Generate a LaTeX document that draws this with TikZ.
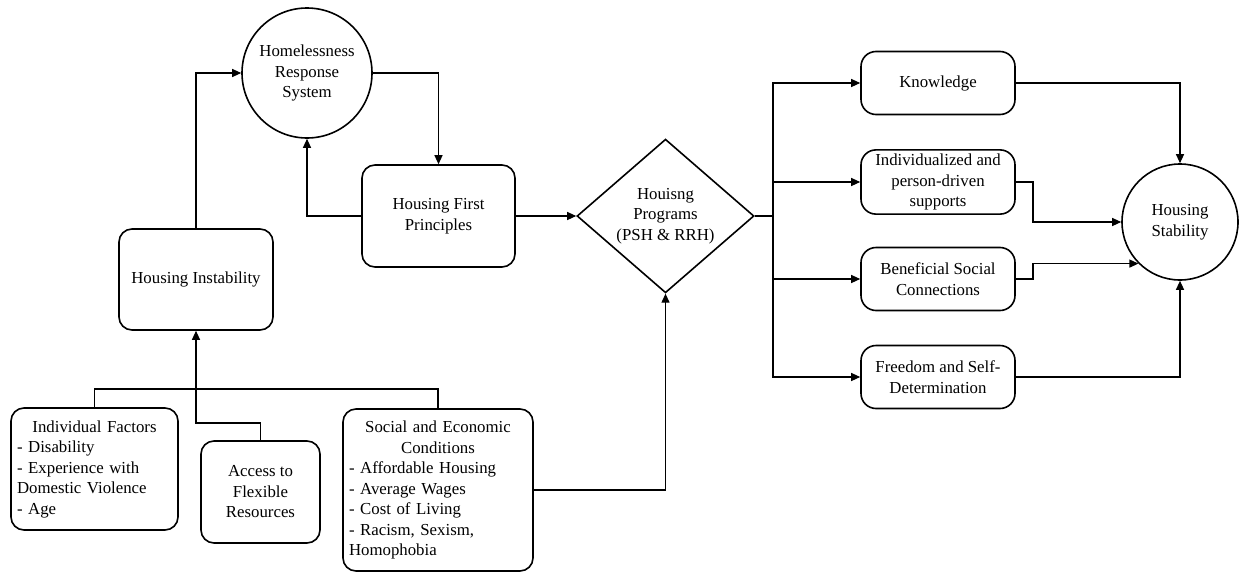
\documentclass[tikz,border=0pt]{standalone}
\usepackage{fontspec}
\setmainfont{Liberation Serif}
\newfontfamily\diagfont{Liberation Serif}
\usetikzlibrary{shapes.geometric,arrows.meta}
\tikzset{
  txt/.style={font=\diagfont\fontsize{16.8pt}{20.5pt}\selectfont},
  box/.style={txt,draw,line width=1.6pt,rounded corners=13pt,inner sep=4pt,align=center},
  rbox/.style={box,minimum width=154pt,minimum height=63pt,rounded corners=15pt},
  circ/.style={txt,draw,circle,line width=1.6pt,inner sep=0pt,align=center},
  conn/.style={line width=1.2pt},
  arr/.style={conn,-{Triangle[length=9pt,width=8pt]}}
}
\begin{document}
\begin{tikzpicture}[x=1pt,y=-1pt]
\useasboundingbox (0,0) rectangle (1239,573);
% nodes
\node[circ,minimum size=130pt] (hrs) at (307,73) {Homelessness\\Response\\System};
\node[box,minimum width=154pt,minimum height=101pt] (hi) at (196,279.5) {Housing Instability};
\node[box,minimum width=153pt,minimum height=102pt] (hfp) at (438.5,216) {Housing First\\Principles};
\node[txt,draw,diamond,line width=1.6pt,inner sep=0pt,minimum width=177pt,minimum height=130pt,align=center] (hp) at (665.5,216) {Houisng\\Programs\\(PSH \& RRH)};
\node[box,minimum width=167pt,minimum height=122pt,text width=155pt,align=left] (ind) at (94.5,469) {{\centering Individual Factors\par}- Disability\\- Experience with\\Domestic Violence\\- Age};
\node[box,minimum width=119pt,minimum height=102pt] (acc) at (260.5,492) {Access to\\Flexible\\Resources};
\node[box,minimum width=190pt,minimum height=162pt,text width=178pt,align=left] (soc) at (438,490) {{\centering Social and Economic\\Conditions\par}- Affordable Housing\\- Average Wages\\- Cost of Living\\- Racism, Sexism,\\Homophobia};
\node[rbox] (know) at (938,83) {Knowledge};
\node[rbox] (indv) at (938,182) {Individualized and\\person-driven\\supports};
\node[rbox] (ben) at (938,279) {Beneficial Social\\Connections};
\node[rbox] (free) at (938,377) {Freedom and Self-\\Determination};
\node[circ,minimum size=116pt] (hs) at (1180,222) {Housing\\Stability};
% coordinates
\coordinate (bus) at (196,389);
\coordinate (accb) at (196,423);
\coordinate (br) at (773,216);
\coordinate (mid) at (1033,0);
% connectors
\draw[arr] (hi.north) |- (hrs.west);
\draw[arr] (hrs.east) -| (hfp.north);
\draw[arr] (hfp.west) -| (hrs.south);
\draw[arr] (hfp.east) -- (hp.west);
\draw[arr] (soc.east) -| (hp.south);
\draw[conn] (ind.north) |- (bus) -| (soc.north);
\draw[arr] (acc.north) |- (accb) -- (hi.south);
\draw[conn] (hp.east) -- (br);
\draw[arr] (br) |- (know.west);
\draw[arr] (br) |- (indv.west);
\draw[arr] (br) |- (ben.west);
\draw[arr] (br) |- (free.west);
\draw[arr] (know.east) -| (hs.north);
\draw[arr] (indv.east) -- (indv.east -| mid) |- (hs.west);
\draw[arr] (ben.east) -- (ben.east -| mid) |- (hs.225);
\draw[arr] (free.east) -| (hs.south);
\end{tikzpicture}
\end{document}
